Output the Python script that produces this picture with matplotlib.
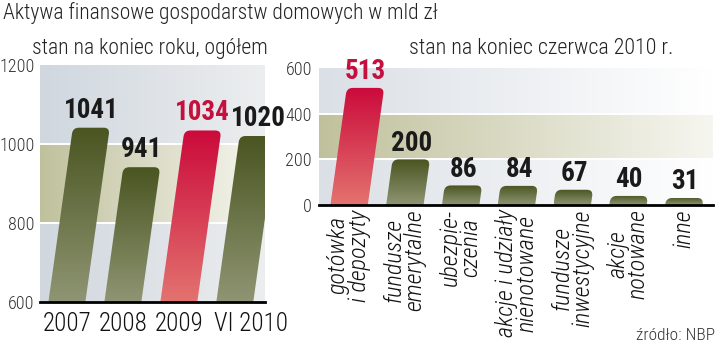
import numpy as np
import matplotlib.pyplot as plt
from matplotlib.path import Path
from matplotlib.patches import PathPatch
from matplotlib.colors import LinearSegmentedColormap
from matplotlib.transforms import ScaledTranslation

plt.rcParams['font.family'] = ['Roboto Condensed', 'Archivo Narrow', 'DejaVu Sans']
plt.rcParams['font.weight'] = 'light'
NUM_FONT = ['Roboto Condensed', 'Archivo Narrow', 'Saira Condensed', 'DejaVu Sans']

# aktywa ogółem, mld zł
years = ['2007', '2008', '2009', 'VI 2010']
totals = [1041, 941, 1034, 1020]

# struktura na koniec czerwca 2010, mld zł
categories = ['gotówka\ni depozyty', 'fundusze\nemerytalne', 'ubezpie-\nczenia',
              'akcje i udziały\nnienotowane', 'fundusze\ninwestycyjne',
              'akcje\nnotowane', 'inne']
shares = [513, 200, 86, 84, 67, 40, 31]

green = LinearSegmentedColormap.from_list('green', ['#8f9573', '#4a5521'])
red = LinearSegmentedColormap.from_list('red', ['#e3736f', '#cb0a3b'])
RED_TXT = '#c4103f'

fig = plt.figure(figsize=(7.2, 3.47), dpi=100)
ax1 = fig.add_axes([0.0556, 0.130, 0.3125, 0.683])
ax2 = fig.add_axes([0.443, 0.409, 0.547, 0.395])


def setup(ax, xlim, ylim, band, grid, bg):
    ax.set_xlim(*xlim)
    ax.set_ylim(*ylim)
    x0, x1 = xlim
    y0, y1 = ylim
    grad = np.linspace(0, 1, 256)[None, :]
    ax.imshow(grad, cmap=LinearSegmentedColormap.from_list('bg', bg),
              extent=(x0, x1, y0, y1), aspect='auto', zorder=0)
    ax.imshow(grad, cmap=LinearSegmentedColormap.from_list('band', ['#c0c19c', '#f6f6f0']),
              extent=(x0, x1, band[0], band[1]), aspect='auto', zorder=0.5)
    for g in grid:
        ax.axhline(g, color='white', lw=1.4, zorder=1)
    for s in ['left', 'right', 'top']:
        ax.spines[s].set_visible(False)
    ax.spines['bottom'].set_linewidth(2)
    ax.spines['bottom'].set_zorder(5)
    ax.tick_params(length=0)
    ax.set_xlim(*xlim)
    ax.set_ylim(*ylim)


def slanted_bars(ax, values, base, width, hl):
    bb = ax.get_window_extent()
    xl, xr = ax.get_xlim()
    yl, yr = ax.get_ylim()
    px_x = bb.width / (xr - xl)
    px_y = bb.height / (yr - yl)
    slant = 0.14 * px_y / px_x
    rx, ry = 6 / px_x, 6 / px_y
    tops = []
    for i, v in enumerate(values):
        h = v - base
        sh = slant * h
        a, b = i - width / 2, i + width / 2
        f = 1 - ry / h
        verts = [(a, base), (b, base), (b + sh * f, v - ry), (b + sh, v), (b + sh - rx, v),
                 (a + sh + rx, v), (a + sh, v), (a + sh * f, v - ry), (a, base)]
        codes = [Path.MOVETO, Path.LINETO, Path.LINETO, Path.CURVE3, Path.CURVE3,
                 Path.LINETO, Path.CURVE3, Path.CURVE3, Path.CLOSEPOLY]
        patch = PathPatch(Path(verts, codes), facecolor='none', edgecolor='none')
        ax.add_patch(patch)
        im = ax.imshow(np.linspace(0, 1, 256)[:, None], cmap=red if i == hl else green,
                       origin='lower', extent=(a, b + sh, base, v), aspect='auto', zorder=2)
        im.set_clip_path(patch)
        tops.append(i + sh)
    return tops


setup(ax1, (-0.48, 3.54), (600, 1200), (800, 1000), [800, 1000], ['#d0d7df', '#eceeef'])
setup(ax2, (-0.54, 6.52), (0, 600), (200, 400), [200, 400], ['#dbe0e6', '#ffffff'])

tops1 = slanted_bars(ax1, totals, 600, 0.66, years.index('2009'))
tops2 = slanted_bars(ax2, shares, 0, 0.67, 0)

for i, (x, v) in enumerate(zip(tops1, totals)):
    ax1.annotate(str(v), xy=(x, v), xytext=(0, 3), textcoords='offset points',
                 ha='center', va='bottom', fontsize=19.5, fontweight='bold', family=NUM_FONT,
                 color=RED_TXT if i == 2 else '#1a1a1a', zorder=6)
for i, (x, v) in enumerate(zip(tops2, shares)):
    ax2.annotate(str(v), xy=(x, v), xytext=(0, 2), textcoords='offset points',
                 ha='center', va='bottom', fontsize=19.5, fontweight='bold', family=NUM_FONT,
                 color=RED_TXT if i == 0 else '#1a1a1a', zorder=6)

ax1.set_yticks([600, 800, 1000, 1200])
ax1.set_xticks(range(len(years)))
ax1.set_xticklabels(years, fontsize=18, color='#111111')
ax1.tick_params(axis='y', labelsize=13, pad=4, labelcolor='#333333')
ax1.tick_params(axis='x', pad=7)
# "VI 2010" is wider, push it to the right of its bar
last = ax1.get_xticklabels()[-1]
last.set_transform(last.get_transform() + ScaledTranslation(0.16, 0, fig.dpi_scale_trans))

ax2.set_yticks([0, 200, 400, 600])
ax2.set_xticks(range(len(categories)))
ax2.set_xticklabels(categories, rotation=90, fontsize=17.5, linespacing=0.86, va='top', ha='center',
                    color='#111111', fontstyle='italic')
ax2.tick_params(axis='y', labelsize=13, pad=5, labelcolor='#333333')
ax2.tick_params(axis='x', pad=3)

fig.text(0.004, 0.945, 'Aktywa finansowe gospodarstw domowych w mld zł', fontsize=15.5, color='#222222')
fig.text(0.044, 0.845, 'stan na koniec roku, ogółem', fontsize=15.6, color='#222222')
fig.text(0.568, 0.845, 'stan na koniec czerwca 2010 r.', fontsize=15.8, color='#222222')
fig.text(0.993, 0.02, 'źródło: NBP', fontsize=12.5, color='#333333', ha='right')

fig.savefig('out.png', dpi=100)
